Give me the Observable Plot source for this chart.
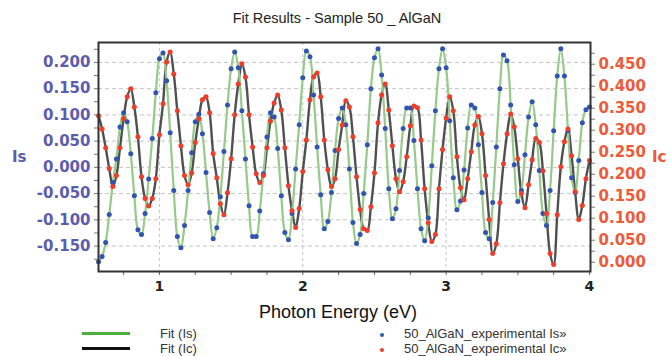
<!DOCTYPE html>
<html><head><meta charset="utf-8">
<script src="https://cdn.jsdelivr.net/npm/d3@7"></script>
<script src="https://cdn.jsdelivr.net/npm/@observablehq/plot@0.6"></script>
<style>
body{margin:0;background:#fff;}
#wrap{position:relative;width:670px;height:356px;overflow:hidden;font-family:"Liberation Sans",Arial,sans-serif;}
#title{position:absolute;left:2px;top:10px;width:670px;text-align:center;font-size:14.5px;line-height:17px;color:#222;}
#chart{position:absolute;left:0;top:30px;}
.ylab{position:absolute;top:148px;font-family:"DejaVu Sans",sans-serif;font-weight:bold;font-size:15px;line-height:18px;}
#xlab{position:absolute;left:0;top:302px;width:676px;text-align:center;font-size:18px;line-height:20px;color:#111;}
.lg{position:absolute;font-family:"Liberation Sans Narrow","Arial Narrow","Liberation Sans",sans-serif;font-stretch:condensed;font-size:13px;line-height:15px;color:#333;white-space:nowrap;}
.sw{position:absolute;width:48px;height:3px;left:82px;}
.dt{position:absolute;width:4px;height:4px;border-radius:50%;left:380px;}
</style></head><body>
<div id="wrap">
  <div id="title">Fit Results - Sample 50 _ AlGaN</div>
  <div id="chart"></div>
  <div class="ylab" style="left:12px;color:#5c5cae;">Is</div>
  <div class="ylab" style="left:652px;color:#ee5a3a;">Ic</div>
  <div id="xlab">Photon Energy (eV)</div>
  <div class="sw" style="top:332px;background:#4cae3c;"></div>
  <div class="sw" style="top:347px;background:#111;"></div>
  <div class="lg" style="left:160px;top:326px;">Fit (Is)</div>
  <div class="lg" style="left:160px;top:341px;">Fit (Ic)</div>
  <div class="dt" style="top:333px;background:#2a5cb0;"></div>
  <div class="dt" style="top:348px;background:#e8402a;"></div>
  <div class="lg" style="left:404px;top:326px;">50_AlGaN_experimental Is»</div>
  <div class="lg" style="left:404px;top:341px;">50_AlGaN_experimental Ic»</div>
</div>
<script>
// Photon energy (eV) of the experimental points
const energy = [
 0.575,0.6,0.625,0.65,0.675,0.7,0.725,0.75,0.775,0.8,
 0.825,0.85,0.875,0.9,0.925,0.95,0.975,1.0,1.025,1.05,
 1.075,1.1,1.125,1.15,1.175,1.2,1.225,1.25,1.275,1.3,
 1.325,1.35,1.375,1.4,1.425,1.45,1.475,1.5,1.525,1.55,
 1.575,1.6,1.625,1.65,1.675,1.7,1.725,1.75,1.775,1.8,
 1.825,1.85,1.875,1.9,1.925,1.95,1.975,2.0,2.025,2.05,
 2.075,2.1,2.125,2.15,2.175,2.2,2.225,2.25,2.275,2.3,
 2.325,2.35,2.375,2.4,2.425,2.45,2.475,2.5,2.525,2.55,
 2.575,2.6,2.625,2.65,2.675,2.7,2.725,2.75,2.775,2.8,
 2.825,2.85,2.875,2.9,2.925,2.95,2.975,3.0,3.025,3.05,
 3.075,3.1,3.125,3.15,3.175,3.2,3.225,3.25,3.275,3.3,
 3.325,3.35,3.375,3.4,3.425,3.45,3.475,3.5,3.525,3.55,
 3.575,3.6,3.625,3.65,3.675,3.7,3.725,3.75,3.775,3.8,
 3.825,3.85,3.875,3.9,3.925,3.95,3.975,4.0
];
// Is (left axis)
const isValues = [
 -0.180,-0.170,-0.143,-0.090,-0.029,0.016,0.077,0.104,0.087,0.026,
 -0.054,-0.119,-0.128,-0.088,-0.022,0.055,0.142,0.207,0.218,0.165,
 0.066,-0.044,-0.132,-0.153,-0.111,-0.044,0.028,0.087,0.101,0.064,
 -0.010,-0.086,-0.136,-0.115,-0.056,0.030,0.119,0.188,0.220,0.190,
 0.108,0.016,-0.073,-0.132,-0.132,-0.083,-0.012,0.058,0.104,0.096,
 0.036,-0.054,-0.124,-0.138,-0.088,-0.003,0.081,0.171,0.222,0.211,
 0.138,0.039,-0.052,-0.117,-0.103,-0.048,0.032,0.093,0.113,0.081,
 -0.003,-0.105,-0.145,-0.128,-0.050,0.043,0.150,0.209,0.226,0.176,
 0.074,-0.041,-0.098,-0.079,-0.006,0.074,0.113,0.113,0.051,-0.041,
 -0.117,-0.140,-0.096,0.003,0.108,0.188,0.226,0.190,0.089,-0.020,
 -0.081,-0.064,-0.005,0.075,0.119,0.113,0.043,-0.048,-0.124,-0.136,
 -0.067,0.039,0.150,0.214,0.203,0.119,0.005,-0.065,-0.044,0.024,
 0.096,0.125,0.081,-0.006,-0.088,-0.111,-0.044,0.070,0.174,0.226,
 0.174,0.070,-0.020,-0.048,0.013,0.085,0.110,0.115
];
// Ic (right axis)
const icValues = [
 0.333,0.303,0.260,0.213,0.172,0.197,0.260,0.326,0.376,0.394,
 0.353,0.285,0.194,0.145,0.128,0.145,0.190,0.290,0.360,0.455,
 0.478,0.428,0.344,0.265,0.197,0.176,0.203,0.272,0.326,0.369,
 0.376,0.340,0.247,0.192,0.133,0.108,0.158,0.235,0.335,0.405,
 0.451,0.421,0.335,0.262,0.201,0.181,0.197,0.260,0.321,0.362,
 0.380,0.346,0.260,0.174,0.117,0.079,0.122,0.206,0.278,0.369,
 0.421,0.430,0.376,0.278,0.210,0.172,0.190,0.256,0.312,0.367,
 0.353,0.285,0.194,0.120,0.076,0.072,0.126,0.203,0.317,0.380,
 0.405,0.346,0.265,0.190,0.160,0.183,0.240,0.310,0.355,0.351,
 0.278,0.167,0.090,0.047,0.063,0.167,0.256,0.328,0.376,0.344,
 0.240,0.169,0.142,0.190,0.251,0.312,0.331,0.292,0.197,0.097,
 0.020,0.042,0.135,0.224,0.292,0.337,0.308,0.235,0.156,0.124,
 0.176,0.233,0.281,0.272,0.208,0.111,0.020,-0.005,0.108,0.217,
 0.274,0.303,0.242,0.160,0.097,0.129,0.190,0.231
];
const xTicks = [1, 2, 3, 4];
const xMinorTicks = [0.75,1,1.25,1.5,1.75,2,2.25,2.5,2.75,3,3.25,3.5,3.75,4];
const isTicks = [-0.15,-0.1,-0.05,0,0.05,0.1,0.15,0.2];
const isMinorTicks = [-0.175,-0.15,-0.125,-0.1,-0.075,-0.05,-0.025,0,0.025,0.05,0.075,0.1,0.125,0.15,0.175,0.2,0.225];
const icTicks = [0,0.05,0.1,0.15,0.2,0.25,0.3,0.35,0.4,0.45];
const icMinorTicks = [0,0.025,0.05,0.075,0.1,0.125,0.15,0.175,0.2,0.225,0.25,0.275,0.3,0.325,0.35,0.375,0.4,0.425,0.45,0.475];

// right-axis (Ic) values expressed on the left (Is) scale
const icSlope = 0.83869, icOffset = -0.18083;
const icToIs = v => icOffset + icSlope * v;
const isToIc = v => { const r = (v - icOffset) / icSlope; return Math.abs(r) < 1e-9 ? 0 : r; };

const rows = energy.map((e, i) => ({e, is: isValues[i], ic: icValues[i]}));

const leftColor = "#5c5cae", rightColor = "#ee5a3a";
const tickFont = "DejaVu Sans";

const chart = Plot.plot({
  width: 670, height: 292,
  marginTop: 12, marginBottom: 51, marginLeft: 98, marginRight: 80,
  style: {fontFamily: "Liberation Sans, Arial, sans-serif", background: "transparent"},
  x: {domain: [0.575, 4.007]},
  y: {domain: [-0.1985, 0.238]},
  marks: [
    Plot.gridY(isTicks, {stroke: "#c4c4c4", strokeOpacity: 1, strokeDasharray: "4 3"}),
    Plot.gridX([1, 2, 3], {stroke: "#c4c4c4", strokeOpacity: 1, strokeDasharray: "3 3"}),
    Plot.line(rows, {x: "e", y: d => icToIs(d.ic), stroke: "#505050", strokeWidth: 2.4, curve: "catmull-rom"}),
    Plot.line(rows, {x: "e", y: "is", stroke: "#96c98a", strokeWidth: 2.2, curve: "catmull-rom"}),
    Plot.dot(rows, {x: "e", y: "is", r: 2.5, fill: "#2f55b0", stroke: "none"}),
    Plot.dot(rows, {x: "e", y: d => icToIs(d.ic), r: 2.5, fill: "#f03c28", stroke: "none"}),
    Plot.axisX(xMinorTicks, {tickSize: 4, tickFormat: () => "", stroke: "#666", label: null}),
    Plot.axisX(xTicks, {tickSize: 0, tickPadding: 10, tickFormat: d => String(d), fontSize: 14, fontWeight: "bold", fontFamily: tickFont, fill: "#222", label: null}),
    Plot.axisY(isMinorTicks, {anchor: "left", tickSize: 4, tickFormat: () => "", stroke: "#777", label: null}),
    Plot.axisY(isTicks, {anchor: "left", tickSize: 0, tickPadding: 8, tickFormat: d => d.toFixed(3), fontSize: 15, fontWeight: "bold", fontFamily: tickFont, fill: leftColor, label: null}),
    Plot.axisY(icMinorTicks.map(icToIs), {anchor: "right", tickSize: 4, tickFormat: () => "", stroke: "#777", label: null}),
    Plot.axisY(icTicks.map(icToIs), {anchor: "right", tickSize: 0, tickPadding: 8, tickFormat: d => isToIc(d).toFixed(3), fontSize: 15, fontWeight: "bold", fontFamily: tickFont, fill: rightColor, label: null}),
    Plot.frame({stroke: "#333", strokeWidth: 2})
  ]
});
document.getElementById("chart").appendChild(chart);
</script>
</body></html>
